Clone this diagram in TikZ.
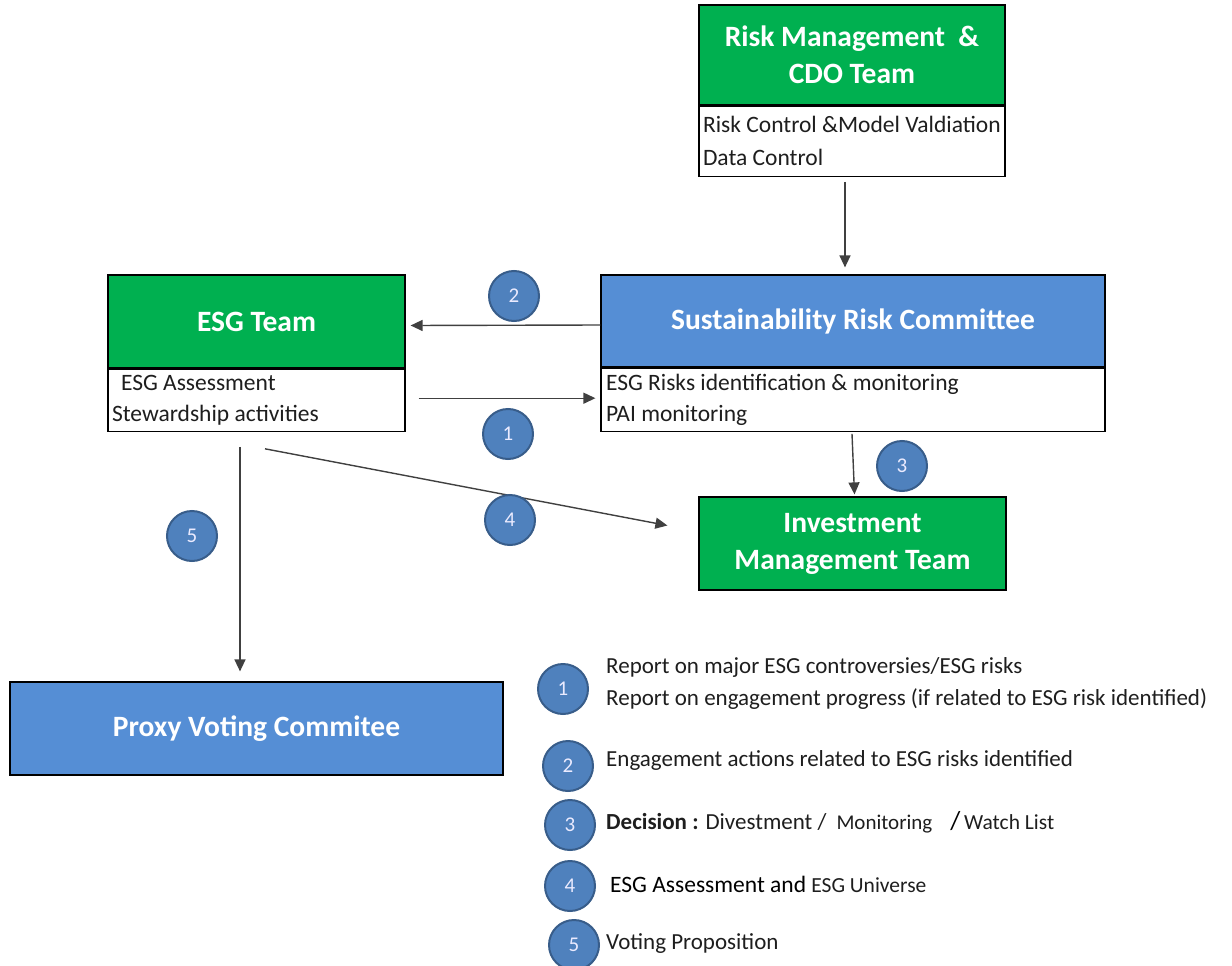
\documentclass[tikz,border=0pt]{standalone}
\usepackage{fontspec}
\setmainfont{Carlito}
\usetikzlibrary{arrows.meta,positioning,calc}

\definecolor{boxgreen}{RGB}{0,176,80}
\definecolor{boxblue}{RGB}{85,142,213}
\definecolor{ballblue}{RGB}{79,129,189}
\definecolor{ballrim}{RGB}{56,93,138}
\definecolor{linegray}{RGB}{64,64,64}
\definecolor{textdark}{RGB}{30,30,30}

\tikzset{
  headbox/.style={draw=black, line width=1.2pt, text=white, align=center, inner sep=0pt,
    font=\fontsize{29.5}{37}\selectfont\bfseries},
  greenbox/.style={headbox, fill=boxgreen},
  bluebox/.style={headbox, fill=boxblue},
  listbox/.style={draw=black, line width=1.2pt, fill=white, text=textdark, align=flush left,
    anchor=north, inner ysep=0pt, font=\fontsize{23.5}{31}\selectfont},
  numball/.style={circle, draw=ballrim, line width=2pt, fill=ballblue, text=white!92!blue,
    minimum width=50pt, minimum height=48pt, inner sep=0pt, font=\fontsize{21}{21}\selectfont},
  flow/.style={-{Triangle[length=12pt,width=11pt]}, draw=linegray, line width=1.4pt},
  legend/.style={anchor=west, text=textdark, align=left, inner sep=0pt,
    font=\fontsize{23}{32}\selectfont}
}

\begin{document}
\begin{tikzpicture}[x=1pt, y=-1pt]
        \useasboundingbox (0,0) rectangle (1232,966);
        % Boxes
        \node [greenbox, minimum width=306pt, minimum height=100pt] (risk) at (852,55)
            {Risk Management\ \ \&\\CDO Team};
        \node [listbox, inner xsep=4pt, text width=298pt, minimum height=70pt,
            font=\fontsize{23.5}{33}\selectfont] (riskd) at (risk.south)
            {Risk Control \&Model Valdiation\\Data Control};
        \node [bluebox, minimum width=504pt, minimum height=92pt] (src) at (853,321)
            {Sustainability Risk Committee};
        \node [listbox, inner xsep=5pt, text width=494pt, minimum height=63pt] (srcd) at (src.south)
            {ESG Risks identification \& monitoring\\PAI monitoring};
        \node [greenbox, minimum width=297pt, minimum height=93pt] (esg) at (256.5,321.5)
            {ESG Team};
        \node [listbox, inner xsep=4pt, text width=289pt, minimum height=62pt] (esgd) at (esg.south)
            {\hspace*{9pt}ESG Assessment\\Stewardship activities};
        \node [greenbox, minimum width=307pt, minimum height=93pt] (imt) at (852.5,543.5)
            {Investment\\Management Team};
        \node [bluebox, minimum width=493pt, minimum height=93pt] (proxy) at (256.5,728.5)
            {Proxy Voting Commitee};

        % Arrows
        \draw [flow] ($(riskd.south)+(-7,5)$) -- ($(src.north)+(-8,-7)$);
        \draw [flow] ($(src.west)+(0,4)$) -- ($(esg.east)+(5,4)$);
        \draw [flow] ($(esgd.east)+(13,-2)$) -- ($(srcd.west)+(-5,-1.5)$);
        \draw [flow] ($(srcd.south)+(-1,2)$) -- ($(imt.north)+(2,-2)$);
        \draw [flow] ($(esgd.south)+(8.5,17)$) -- ($(imt.west)+(-31,-18)$);
        \draw [flow] ($(esgd.south)+(-16.5,15)$) -- ($(proxy.north)+(-16.5,-10)$);

        % Step numbers
        \node [numball] (b2) at (514,296) {2};
        \node [numball] (b1) at (508,434) {1};
        \node [numball] (b3) at (902,466) {3};
        \node [numball] (b4) at (510,520) {4};
        \node [numball] (b5) at (192,536) {5};

        % Legend
        \node [numball] (k1) at (563,689) {1};
        \node [numball] (k2) at (568,766) {2};
        \node [numball] (k3) at (570,825) {3};
        \node [numball] (k4) at (570,886) {4};
        \node [numball] (k5) at (574,945) {5};
        \node [legend] (l1) at (606,683)
            {Report on major ESG controversies/ESG risks\\Report on engagement progress (if related to ESG risk identified)};
        \node [legend] (l2) at (606,760) {Engagement actions related to ESG risks identified};
        \node [legend] (l3) at (606,822)
            {\textbf{Decision :} Divestment /\hspace{10pt}{\fontsize{21}{21}\selectfont Monitoring}\hspace{18pt}{\fontsize{26}{26}\selectfont\color{black}/}\,{\fontsize{21.5}{21.5}\selectfont Watch List}};
        \node [legend] (l4) at (610,884)
            {{\fontsize{23.5}{23.5}\selectfont\color{black}ESG Assessment and} {\fontsize{21.5}{21.5}\selectfont ESG Universe}};
        \node [legend] (l5) at (606,944) {Voting Proposition};
\end{tikzpicture}
\end{document}
